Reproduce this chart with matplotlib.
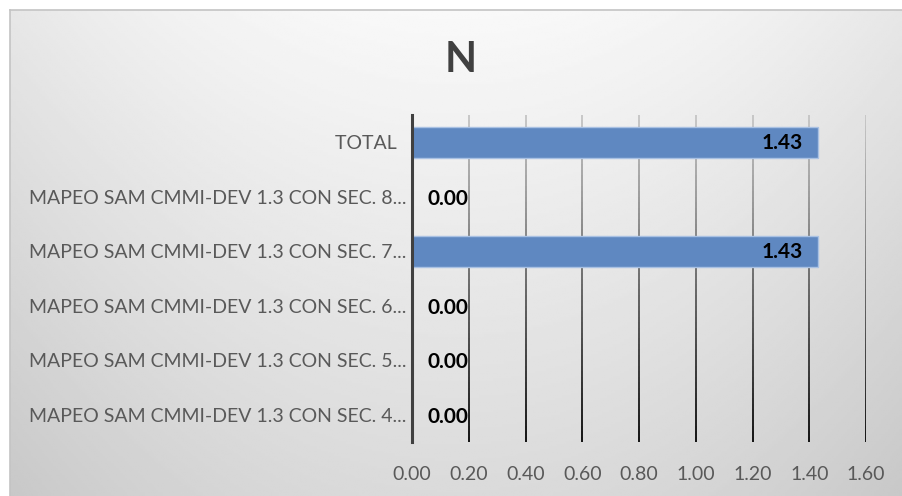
import matplotlib.pyplot as plt
import numpy as np
from matplotlib.collections import LineCollection

categories = ["TOTAL  ",
              "MAPEO SAM CMMI-DEV 1.3 CON SEC. 8...",
              "MAPEO SAM CMMI-DEV 1.3 CON SEC. 7...",
              "MAPEO SAM CMMI-DEV 1.3 CON SEC. 6...",
              "MAPEO SAM CMMI-DEV 1.3 CON SEC. 5...",
              "MAPEO SAM CMMI-DEV 1.3 CON SEC. 4..."]
values = [1.43, 0.00, 1.43, 0.00, 0.00, 0.00]
ticks = [0.0, 0.2, 0.4, 0.6, 0.8, 1.0, 1.2, 1.4, 1.6]

plt.rcParams['font.family'] = ['Lato', 'DejaVu Sans']

W, H = 902, 496
fig = plt.figure(figsize=(W / 100, H / 100), dpi=100, facecolor='white')

# background gradient of the chart area
bg = fig.add_axes([10 / W, 0, 1 - 10 / W, 1 - 10 / H], zorder=0)
yy, xx = np.mgrid[0:1:200j, 0:1:400j]
shade = 0.975 - 0.12 * yy - 0.07 * (2 * np.abs(xx - 0.5)) ** 2
bg.imshow(shade, cmap='gray', vmin=0, vmax=1, aspect='auto', extent=[0, 1, 1, 0])
bg.set_xticks([])
bg.set_yticks([])
for s in ['right', 'bottom']:
    bg.spines[s].set_visible(False)
for s in ['left', 'top']:
    bg.spines[s].set_color('#c4c4c4')
    bg.spines[s].set_linewidth(1.2)

ax = fig.add_axes([412 / W, 1 - 442 / H, 454 / W, 327 / H], zorder=1)
ax.patch.set_alpha(0)

y = np.arange(len(categories))

# gradient gridlines, light at top and dark at bottom
n = 60
segs, cols = [], []
for t in ticks[1:]:
    ys = np.linspace(-0.5, len(categories) - 0.5, n + 1)
    for i in range(n):
        segs.append([(t, ys[i]), (t, ys[i + 1])])
        g = 0.78 - 0.72 * (i / n)
        cols.append((g, g, g))
ax.add_collection(LineCollection(segs, colors=cols, linewidths=1.4, zorder=1))

ax.barh(y, values, height=0.57, color='#5f88c1', edgecolor='#a9c1e3', linewidth=1, zorder=2)

for yi, v in zip(y, values):
    if v > 0:
        ax.annotate(f"{v:.2f}", (v, yi), xytext=(-15, -1), textcoords='offset pixels',
                    ha='right', va='center', fontsize=15, fontweight='bold', color='black', zorder=3)
    else:
        ax.annotate(f"{v:.2f}", (v, yi), xytext=(16, -2), textcoords='offset pixels',
                    ha='left', va='center', fontsize=15, fontweight='bold', color='black', zorder=3)

ax.set_xlim(0, 1.6)
ax.set_ylim(len(categories) - 0.5, -0.5)
ax.set_xticks(ticks)
ax.set_xticklabels([f"{t:.2f}" for t in ticks])
ax.set_yticks(y)
ax.set_yticklabels(categories)
ax.tick_params(axis='x', length=0, pad=17, labelsize=14, labelcolor='#595959')
ax.tick_params(axis='y', length=0, pad=4, labelsize=14, labelcolor='#595959')

for s in ['top', 'right', 'bottom']:
    ax.spines[s].set_visible(False)
ax.spines['left'].set_color('#404040')
ax.spines['left'].set_linewidth(2.2)
ax.spines['left'].set_zorder(4)

fig.text(461 / W, 1 - 60 / H, "N", ha='center', va='center', fontsize=30,
         fontweight='bold', color='#404040')

fig.savefig('out.png', dpi=100, facecolor='white')
